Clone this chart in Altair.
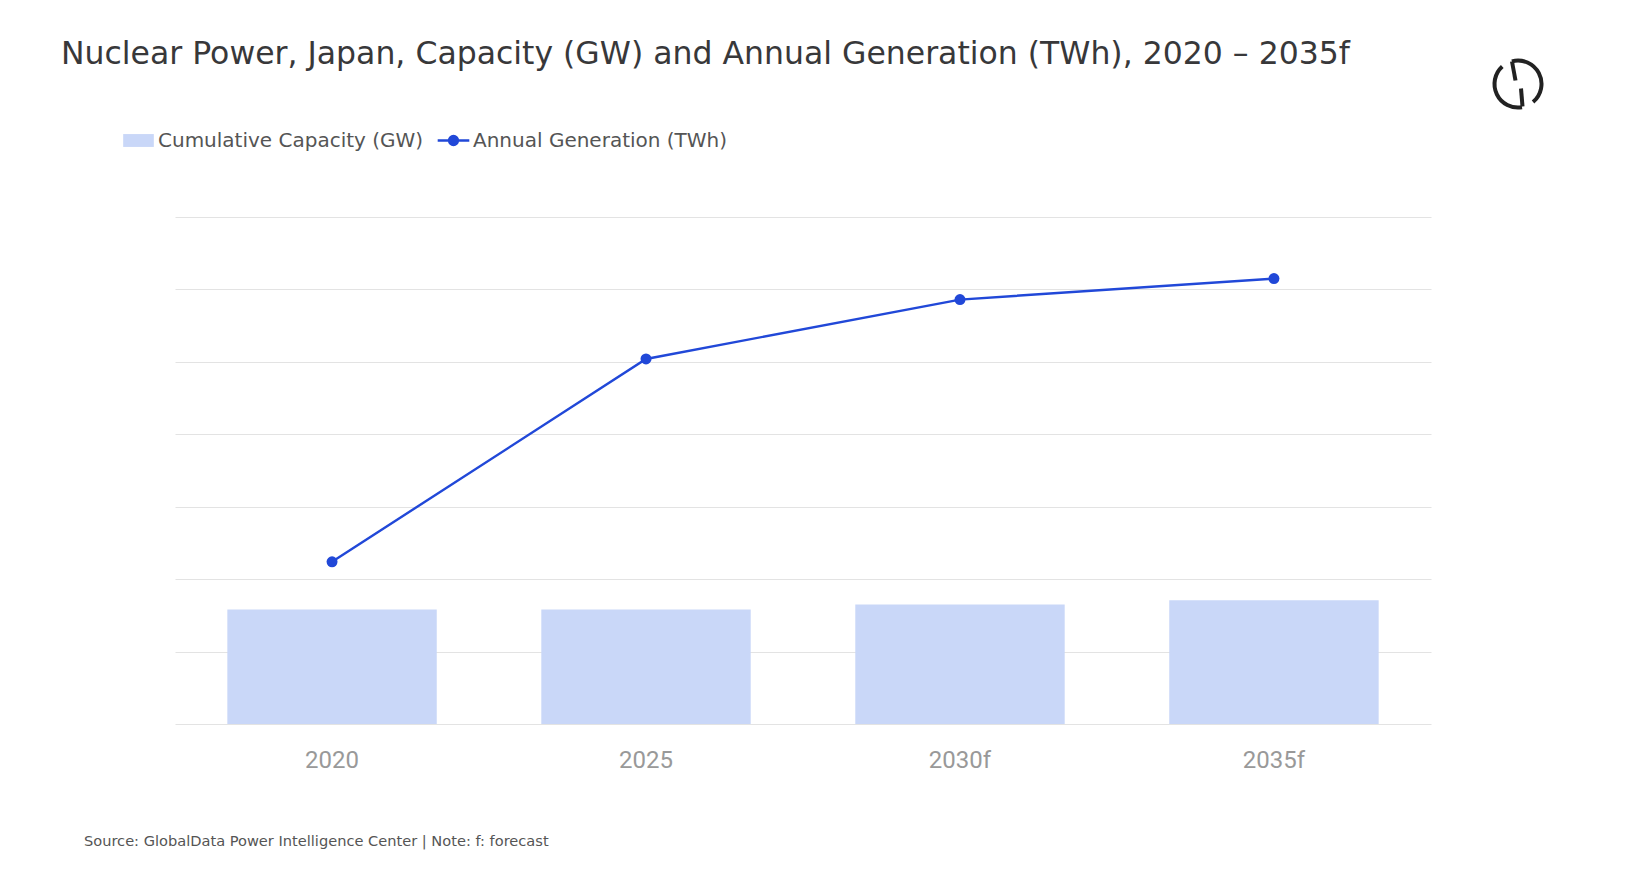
import altair as alt
import pandas as pd

years = ["2020", "2025", "2030f", "2035f"]
capacity_gw = [31.6, 31.6, 33.0, 34.2]
generation_twh = [44.8, 100.8, 117.2, 123.0]

cap_label = "Cumulative Capacity (GW)"
gen_label = "Annual Generation (TWh)"
title_text = "Nuclear Power, Japan, Capacity (GW) and Annual Generation (TWh), 2020 \u2013 2035f"
source_text = "Source: GlobalData Power Intelligence Center | Note: f: forecast"

BAR_COLOR = "#c9d7f8"
LINE_COLOR = "#2148d8"
FONT = "DejaVu Sans"

df = pd.DataFrame({
    "year": years,
    "capacity": capacity_gw,
    "generation": generation_twh,
    "s1": [cap_label] * len(years),
    "s2": [gen_label] * len(years),
})

x_enc = alt.X(
    "year:N",
    sort=years,
    title=None,
    scale=alt.Scale(paddingInner=0.333, paddingOuter=0.1667),
    axis=alt.Axis(
        labelAngle=0, labelFont="Roboto", labelFontSize=24, labelColor="#999999",
        labelPadding=24, ticks=False, domain=False, grid=False,
    ),
)
y_scale = alt.Scale(domain=[0, 140], nice=False)
y_axis = alt.Axis(
    values=[0, 20, 40, 60, 80, 100, 120, 140], labels=False, ticks=False,
    domain=False, grid=True, gridColor="#e3e3e3", gridWidth=1.2, title=None,
)

base = alt.Chart(df)

bars = base.mark_bar(color=BAR_COLOR).encode(
    x=x_enc,
    y=alt.Y("capacity:Q", scale=y_scale, axis=y_axis),
    fill=alt.Fill(
        "s1:N",
        scale=alt.Scale(domain=[cap_label], range=[BAR_COLOR]),
        legend=alt.Legend(
            title=None, orient="none", legendX=-52, legendY=-92,
            symbolType="M-1,-0.42L1,-0.42L1,0.42L-1,0.42Z", symbolSize=940,
            symbolStrokeWidth=0, labelFont=FONT, labelFontSize=20,
            labelColor="#555555", labelOffset=4, labelLimit=0, padding=0,
        ),
    ),
)

line = base.mark_line(strokeWidth=2.4).encode(
    x=alt.X("year:N", sort=years),
    y=alt.Y("generation:Q", scale=y_scale),
    stroke=alt.Stroke(
        "s2:N",
        scale=alt.Scale(domain=[gen_label], range=[LINE_COLOR]),
        legend=alt.Legend(
            title=None, orient="none", legendX=261, legendY=-94,
            symbolType="M-1,0L1,0M-0.28,0A0.28,0.28,0,1,1,0.28,0A0.28,0.28,0,1,1,-0.28,0Z",
            symbolSize=1000, symbolStrokeWidth=2.4, symbolFillColor=LINE_COLOR,
            labelFont=FONT, labelFontSize=20, labelColor="#555555",
            labelOffset=2, labelLimit=0, padding=0,
        ),
    ),
)

points = base.mark_point(filled=True, size=120, color=LINE_COLOR, opacity=1).encode(
    x=alt.X("year:N", sort=years),
    y=alt.Y("generation:Q", scale=y_scale),
)

one = alt.Data(values=[{}])

title = alt.Chart(one).mark_text(
    text=title_text, font=FONT, fontSize=31.5, color="#38383a",
    align="left", baseline="alphabetic",
).encode(x=alt.value(-114), y=alt.value(-153))

source = alt.Chart(one).mark_text(
    text=source_text, font=FONT, fontSize=14.6, color="#555555",
    align="left", baseline="alphabetic",
).encode(x=alt.value(-91), y=alt.value(629))

# logo (decoration)
LX, LY = 1343, -133
LOGO = "#222222"
logo_r = alt.Chart(one).mark_arc(
    radius=25.5, radius2=21.5, theta=6.02, theta2=8.73, color=LOGO
).encode(x=alt.value(LX), y=alt.value(LY))
logo_l = alt.Chart(one).mark_arc(
    radius=25.5, radius2=21.5, theta=2.97, theta2=5.55, color=LOGO
).encode(x=alt.value(LX), y=alt.value(LY))
logo_s1 = alt.Chart(one).mark_rule(strokeWidth=4, color=LOGO, strokeCap="butt").encode(
    x=alt.value(LX - 6), y=alt.value(LY - 22.5), x2=alt.value(LX - 2.5), y2=alt.value(LY - 3.5)
)
logo_s2 = alt.Chart(one).mark_rule(strokeWidth=4, color=LOGO, strokeCap="butt").encode(
    x=alt.value(LX + 3), y=alt.value(LY + 4.5), x2=alt.value(LX + 4.5), y2=alt.value(LY + 22.5)
)

chart = alt.layer(
    bars, line, points, title, source, logo_r, logo_l, logo_s1, logo_s2
).resolve_scale(fill="independent", stroke="independent").properties(
    width=1256,
    height=507,
    autosize=alt.AutoSizeParams(type="none"),
    padding={"left": 167, "top": 209, "right": 207, "bottom": 130},
    background="white",
).configure_view(stroke=None)

chart.save("out.html", embed_options={"renderer": "svg", "actions": False})
